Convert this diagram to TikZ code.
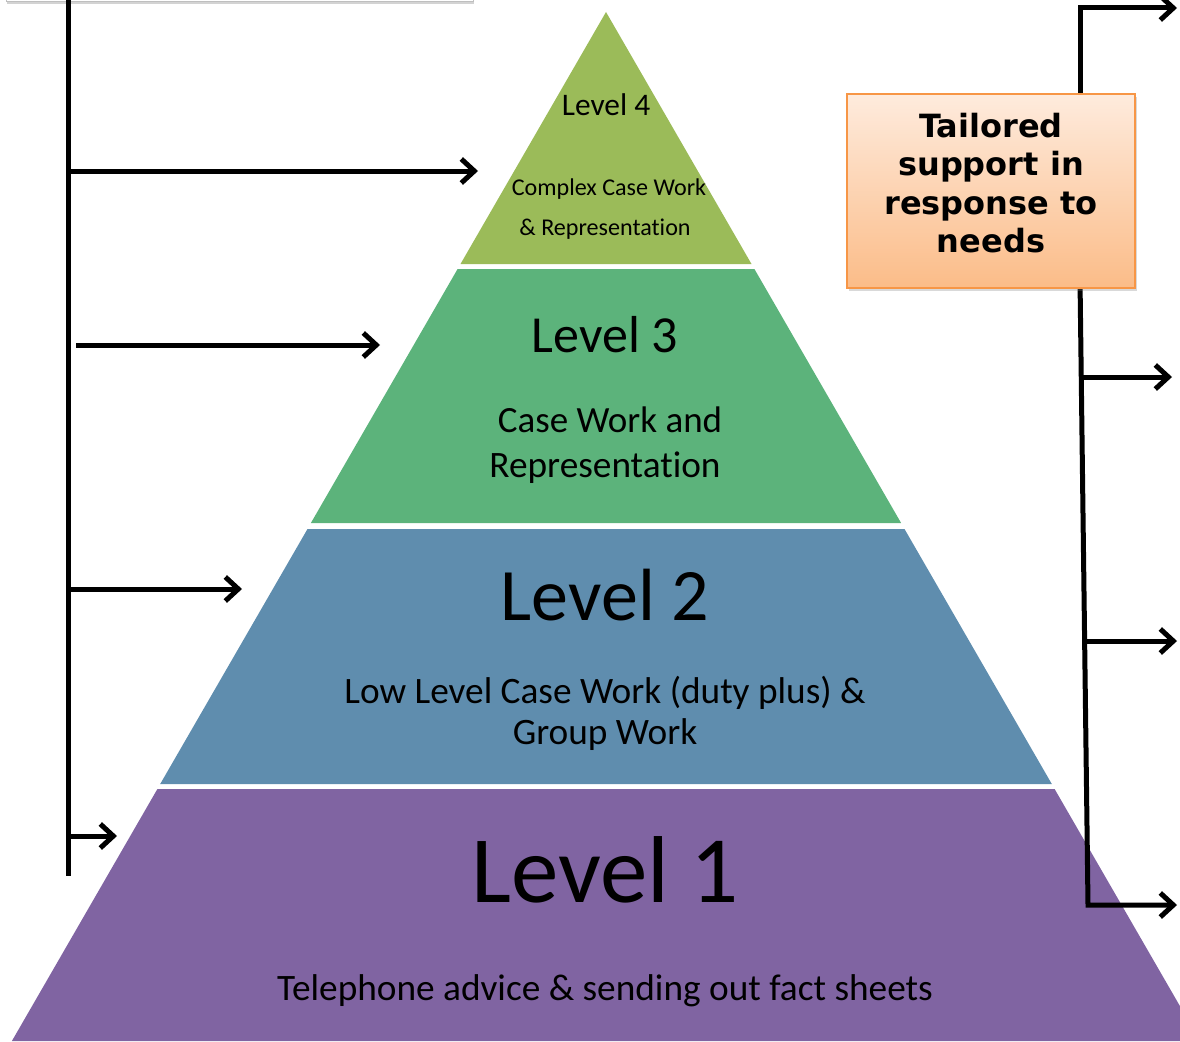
\documentclass[tikz,border=0pt]{standalone}
\usepackage{fontspec}
\setmainfont{Carlito}[Ligatures=NoCommon]
\newfontfamily\boxfont{DejaVu Sans}
\usetikzlibrary{arrows.meta,shadows}
\definecolor{lvfour}{HTML}{9BBB59}
\definecolor{lvthree}{HTML}{5CB37B}
\definecolor{lvtwo}{HTML}{5F8DAE}
\definecolor{lvone}{HTML}{8064A2}
\definecolor{boxtop}{HTML}{FEEBDD}
\definecolor{boxbot}{HTML}{FBBC88}
\definecolor{boxline}{HTML}{F79646}
\tikzset{
  conn/.style={line width=5pt, draw=black},
  arr/.style={conn, -{Straight Barb[length=13pt,width=24pt]}},
  lvtext/.style={anchor=base, inner sep=0pt, text=black},
  tbox/.style={draw=boxline, line width=1.5pt, top color=boxtop, bottom color=boxbot,
    minimum width=288pt, minimum height=194pt, inner sep=0pt,
    drop shadow={opacity=0.3, shadow xshift=2pt, shadow yshift=-3pt}},
  tboxtext/.style={align=center, inner sep=0pt, font=\boxfont\bfseries\fontsize{32}{38.5}\selectfont},
}
\begin{document}
\begin{tikzpicture}[x=1pt, y=-1pt]
\useasboundingbox (0,0) rectangle (1180,1041);
\begin{scope}
\clip (0,0) rectangle (1180,1041);
% top-left cut box
\node[draw=gray!50, fill=white, minimum width=467pt, minimum height=60pt, inner sep=0pt,
  drop shadow={opacity=0.35, shadow xshift=1pt, shadow yshift=-3pt}] (topbox) at (239.5,-29) {};
% pyramid bands
\fill[lvfour] (606,12) -- (751.5,264) -- (460.5,264) -- cycle;
\fill[lvthree] (457.6,269) -- (754.4,269) -- (901.1,523) -- (310.9,523) -- cycle;
\fill[lvtwo] (307.5,529) -- (904.5,529) -- (1051.8,784) -- (160.2,784) -- cycle;
\fill[lvone] (157.4,789) -- (1054.6,789) -- (1200.1,1041) -- (11.9,1041) -- cycle;
\end{scope}
% texts
\node[lvtext, font=\fontsize{31.4}{38}\selectfont] (l4) at (606,115) {Level 4};
\node[lvtext, font=\fontsize{24.1}{29}\selectfont] (l4a) at (609,195) {Complex Case Work};
\node[lvtext, font=\fontsize{24.1}{29}\selectfont] (l4b) at (605,235) {\& Representation};
\node[lvtext, font=\fontsize{52}{62}\selectfont] (l3) at (605,352) {Level 3};
\node[lvtext, font=\fontsize{37}{44}\selectfont] (l3a) at (610,432) {Case Work and};
\node[lvtext, font=\fontsize{37.3}{44}\selectfont] (l3b) at (605,477) {Representation};
\node[lvtext, font=\fontsize{74}{88}\selectfont] (l2) at (605,620) {Level 2};
\node[lvtext, font=\fontsize{37.3}{44}\selectfont] (l2a) at (605,703) {Low Level Case Work (duty plus) \&};
\node[lvtext, font=\fontsize{37.3}{44}\selectfont] (l2b) at (605,744) {Group Work};
\node[lvtext, font=\fontsize{95}{114}\selectfont] (l1) at (605,902) {Level 1};
\node[lvtext, font=\fontsize{37.3}{44}\selectfont] (l1a) at (605,1000) {Telephone advice \& sending out fact sheets};
% left connectors
\coordinate (ltop) at (68,0);
\coordinate (lbot) at (68,876);
\coordinate (la1) at (68,171);  \coordinate (lb1) at (478,171);
\coordinate (la2) at (76,345);  \coordinate (lb2) at (380,345);
\coordinate (la3) at (68,589);  \coordinate (lb3) at (242,589);
\coordinate (la4) at (68,836);  \coordinate (lb4) at (117,836);
\draw[conn] (ltop) -- (lbot);
\draw[arr] (la1) -- (lb1);
\draw[arr] (la2) -- (lb2);
\draw[arr] (la3) -- (lb3);
\draw[arr] (la4) -- (lb4);
% right connectors
\coordinate (rs) at (1080,100);
\coordinate (rc) at (1080,8);
\coordinate (re) at (1177,8);
\draw[arr] (rs) -- (rc) -- (re);
\coordinate (rt) at (1080,280);
\coordinate (rbc) at (1088,905);
\coordinate (rbe) at (1177,905);
\draw[arr] (rt) -- (rbc) -- (rbe);
\coordinate (ra1) at (1081.1,377); \coordinate (rb1) at (1172,377);
\coordinate (ra2) at (1084.6,641); \coordinate (rb2) at (1177,641);
\draw[arr] (ra1) -- (rb1);
\draw[arr] (ra2) -- (rb2);
% tailored box
\node[tbox] (tailored) at (991,191) {};
\node[tboxtext] (tailoredtext) at ([yshift=8pt]tailored.center) {Tailored\\support in\\response to\\needs};
\end{tikzpicture}
\end{document}
